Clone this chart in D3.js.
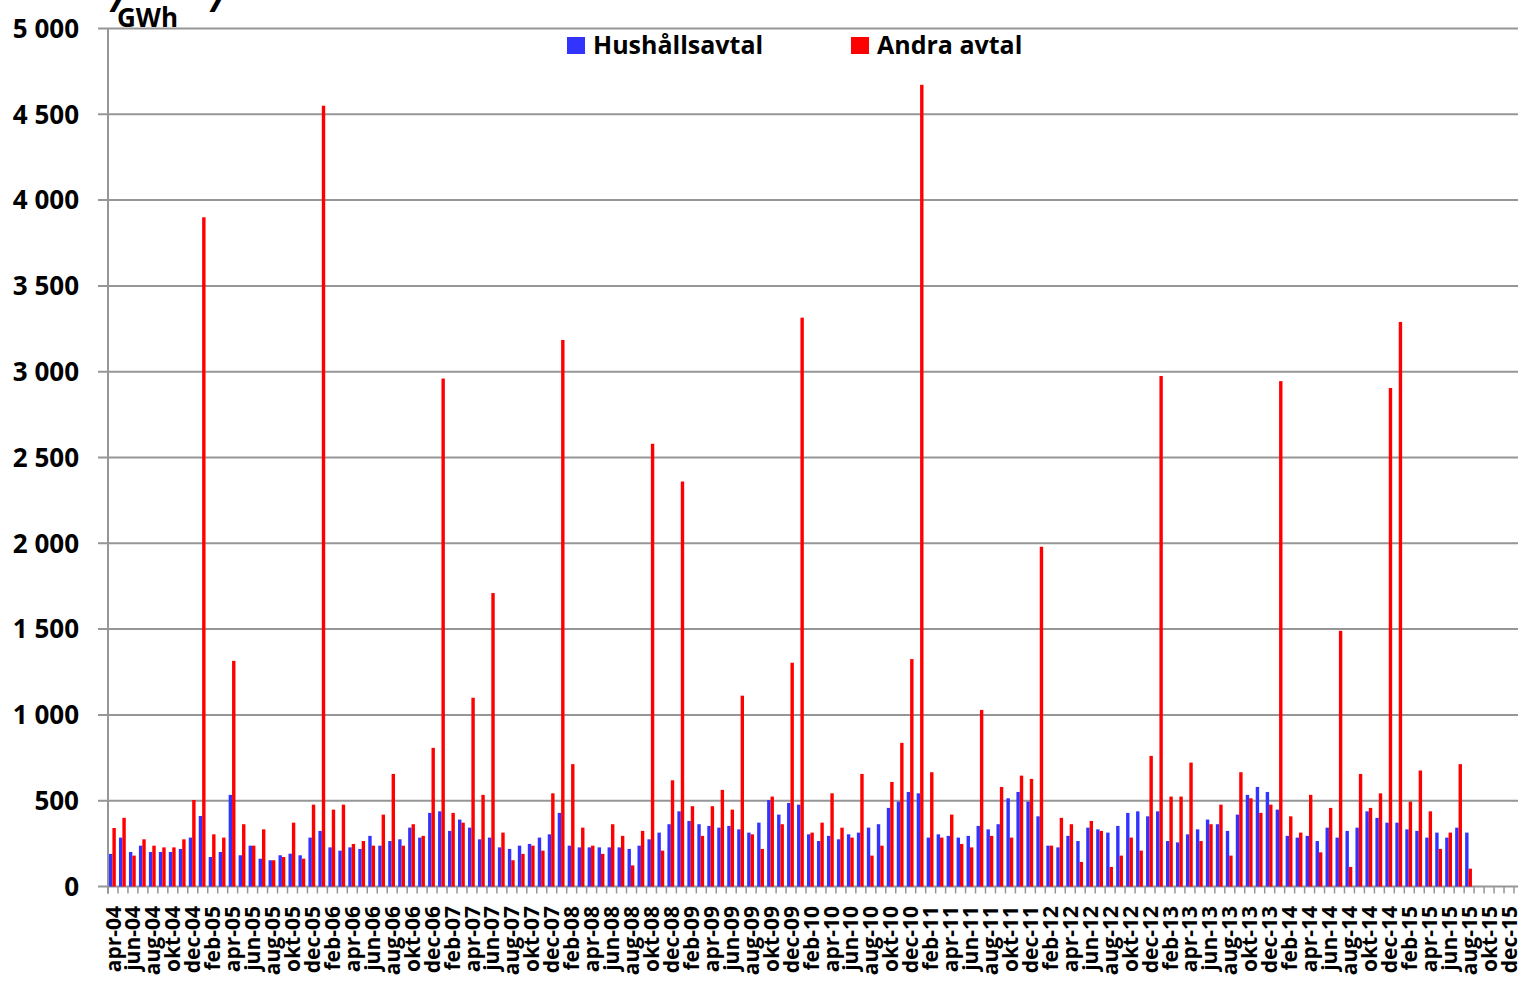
<!DOCTYPE html>
<html>
<head>
<meta charset="utf-8">
<script src="https://cdn.jsdelivr.net/npm/d3@7"></script>
<style>
  body { margin: 0; background: #fff; }
  svg { display: block; }
  text { font-family: "Open Sans", Lato, sans-serif; font-weight: bold; fill: #000; }
</style>
</head>
<body>
<script>
// month names as they appear on the axis (Swedish)
var monthNames = ['jan', 'feb', 'mar', 'apr', 'maj', 'jun', 'jul', 'aug', 'sep', 'okt', 'nov', 'dec'];
var firstYear = 4, firstMonth = 3, nMonths = 141; // apr-04 .. dec-15

// Hushållsavtal, GWh per month (apr-04 .. aug-15)
var hushall = [
  190, 285, 201, 238, 201, 201, 201, 219, 285, 411,
  172, 201, 534, 182, 238, 162, 153, 182, 191, 182,
  285, 324, 228, 209, 228, 219, 295, 238, 265, 275,
  343, 285, 429, 438, 324, 390, 343, 275, 285, 228,
  219, 238, 248, 285, 304, 429, 238, 228, 228, 228,
  228, 228, 219, 238, 275, 314, 363, 438, 382, 363,
  353, 343, 353, 333, 314, 372, 504, 419, 487, 477,
  304, 265, 295, 275, 304, 314, 343, 363, 458, 495,
  551, 543, 285, 304, 295, 285, 295, 353, 333, 363,
  514, 551, 495, 409, 238, 228, 295, 265, 343, 333,
  314, 353, 429, 438, 409, 438, 265, 257, 304, 333,
  390, 363, 324, 419, 534, 580, 551, 448, 295, 285,
  295, 265, 343, 285, 324, 343, 438, 400, 372, 372,
  333, 324, 285, 314, 285, 343, 314
];

// Andra avtal, GWh per month
var andra = [
  341, 400, 180, 275, 238, 228, 228, 275, 504, 3900,
  304, 285, 1315, 363, 238, 333, 153, 172, 372, 162,
  477, 4550, 448, 477, 248, 265, 238, 419, 656, 238,
  363, 295, 808, 2960, 429, 372, 1100, 534, 1710, 314,
  153, 190, 238, 209, 543, 3185, 713, 343, 238, 190,
  363, 295, 123, 324, 2580, 209, 619, 2360, 468, 295,
  468, 563, 448, 1112, 304, 219, 524, 363, 1304, 3315,
  314, 372, 543, 343, 285, 656, 180, 238, 609, 837,
  1325, 4672, 666, 285, 419, 248, 228, 1029, 295, 580,
  285, 646, 627, 1980, 238, 400, 363, 143, 382, 324,
  114, 180, 285, 209, 761, 2975, 524, 524, 722, 265,
  363, 477, 180, 666, 514, 429, 477, 2945, 409, 314,
  534, 199, 458, 1490, 114, 656, 458, 543, 2905, 3290,
  495, 676, 438, 219, 314, 713, 104
];

var yTicks = [0, 500, 1000, 1500, 2000, 2500, 3000, 3500, 4000, 4500, 5000];

var seriesNames = ['Hushållsavtal', 'Andra avtal'];
var seriesColors = ['#3333ff', '#ff0000'];

// build the category labels
var categories = [];
for (var i = 0; i < nMonths; i++) {
  var m = (firstMonth + i) % 12;
  var yr = firstYear + Math.floor((firstMonth + i) / 12);
  categories.push(monthNames[m] + '-' + (yr < 10 ? '0' + yr : '' + yr));
}

var data = categories.map(function(c, i) {
  return { cat: c, vals: [hushall[i], andra[i]] };
});

var W = 1518, H = 982;
var plotLeft = 108, plotRight = 1514, plotTop = 28.5, plotBottom = 886.5;

var svg = d3.select('body').append('svg').attr('width', W).attr('height', H);

var x = d3.scaleBand().domain(categories).range([plotLeft, plotRight]);
var xSub = d3.scaleBand().domain([0, 1]).range([1, 7.8]);
var y = d3.scaleLinear().domain([0, 5000]).range([plotBottom, plotTop]);

// gridlines + y labels
svg.append('g').selectAll('line').data(yTicks).join('line')
  .attr('x1', plotLeft - 10).attr('x2', W)
  .attr('y1', function(d) { return y(d); }).attr('y2', function(d) { return y(d); })
  .attr('stroke', '#969696').attr('stroke-width', 2);

svg.append('g').selectAll('text').data(yTicks).join('text')
  .attr('x', 79).attr('y', function(d) { return y(d); })
  .attr('dy', '0.36em')
  .attr('text-anchor', 'end')
  .style('font-size', '26px')
  .text(function(d) { return d3.format(',')(d).replace(',', ' '); });

// y axis line
svg.append('line').attr('x1', plotLeft).attr('x2', plotLeft).attr('y1', plotTop).attr('y2', plotBottom + 7)
  .attr('stroke', '#969696').attr('stroke-width', 2);

// bars
var groups = svg.append('g').selectAll('g').data(data).join('g')
  .attr('transform', function(d) { return 'translate(' + x(d.cat) + ',0)'; });

groups.selectAll('rect')
  .data(function(d) { return d.vals.map(function(v, j) { return { v: v, j: j }; }).filter(function(e) { return e.v != null; }); })
  .join('rect')
  .attr('x', function(d) { return xSub(d.j); })
  .attr('width', xSub.bandwidth())
  .attr('y', function(d) { return y(d.v); })
  .attr('height', function(d) { return plotBottom - y(d.v); })
  .attr('fill', function(d) { return seriesColors[d.j]; });

// category tick marks
svg.append('g').selectAll('line').data(categories.concat(['end'])).join('line')
  .attr('x1', function(d, i) { return plotLeft + i * x.step(); })
  .attr('x2', function(d, i) { return plotLeft + i * x.step(); })
  .attr('y1', plotBottom).attr('y2', plotBottom + 7)
  .attr('stroke', '#969696').attr('stroke-width', 1.5);

// x labels, every second month
svg.append('g').selectAll('text').data(categories.filter(function(d, i) { return i % 2 === 0; })).join('text')
  .attr('transform', function(d) { return 'translate(' + (x(d) + x.bandwidth() / 2) + ',906) rotate(-90)'; })
  .attr('text-anchor', 'end')
  .attr('dy', '0.36em')
  .style('font-size', '21px')
  .text(function(d) { return d; });

// unit label and cut-off title pieces
svg.append('text').attr('x', 117).attr('y', 27).style('font-size', '26px').text('GWh');
svg.append('text').attr('x', 111).attr('y', 12).style('font-size', '36px').style('font-style', 'italic').text('/');
svg.append('text').attr('x', 211).attr('y', 12).style('font-size', '36px').style('font-style', 'italic').text('/');

// legend
var legendX = [567, 851];
var legend = svg.append('g').selectAll('g').data(seriesNames).join('g')
  .attr('transform', function(d, i) { return 'translate(' + legendX[i] + ',37)'; });
legend.append('rect').attr('width', 18).attr('height', 17)
  .attr('fill', function(d, i) { return seriesColors[i]; });
legend.append('text').attr('x', 26).attr('y', 17).style('font-size', '25px')
  .text(function(d) { return d; });
</script>
</body>
</html>
